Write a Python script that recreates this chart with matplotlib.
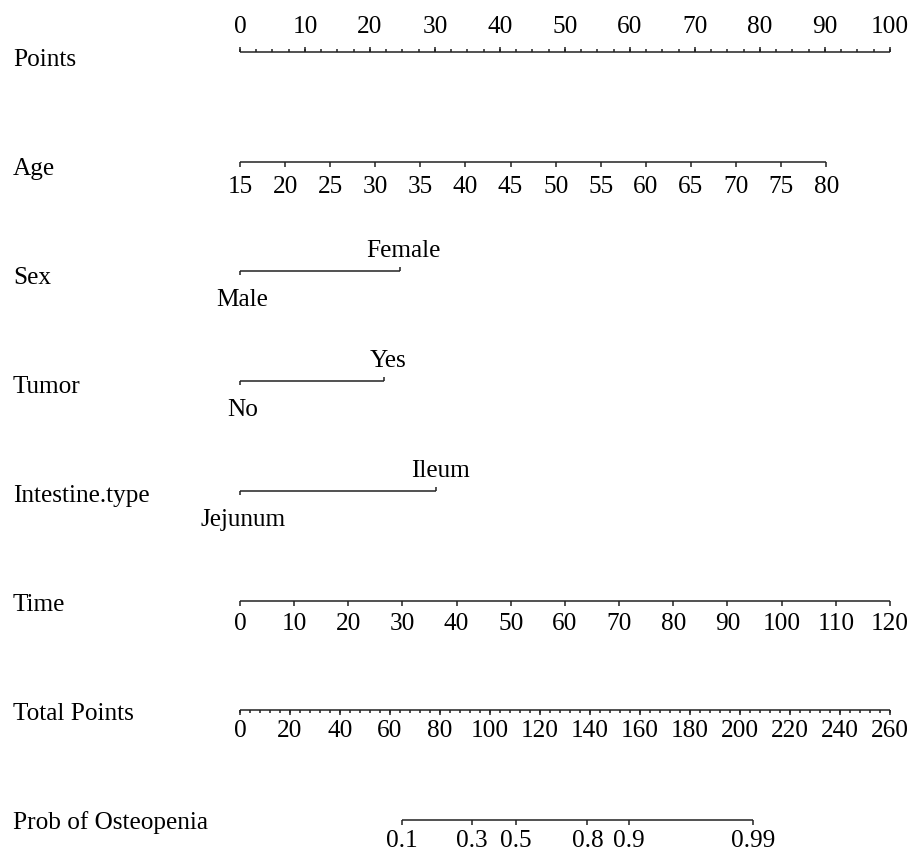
import numpy as np
import matplotlib.pyplot as plt

plt.rcParams['font.family'] = ['Liberation Serif', 'DejaVu Serif']

# scale values
points_ticks = np.arange(0, 101, 10)
points_minor = np.arange(0, 100.1, 2.5)

age_ticks = np.arange(15, 81, 5)
age_range = [15, 80]
age_points = [0, 90.2]

sex_levels = ['Male', 'Female']
sex_points = [0, 24.6]

tumor_levels = ['No', 'Yes']
tumor_points = [0, 22.2]

intestine_levels = ['Jejunum', 'Ileum']
intestine_points = [0, 30.2]

time_ticks = np.arange(0, 121, 10)
time_range = [0, 120]
time_points = [0, 100]

total_ticks = np.arange(0, 261, 20)
total_minor = np.arange(0, 261, 4)
total_max = 260

prob_ticks = ['0.1', '0.3', '0.5', '0.8', '0.9', '0.99']
prob_total = [64.8, 92.7, 110.2, 139.0, 155.6, 205.2]

row_labels = ['Points', 'Age', 'Sex', 'Tumor', 'Intestine.type', 'Time',
              'Total Points', 'Prob of Osteopenia']

# layout (pixels)
W, H = 917, 852
x0, px = 240, 6.5
row_y = [52 + 109.7 * i for i in range(8)]
lbl_y = [66 + 109.0 * i for i in range(8)]
fs = 18.2
lc = '#222222'
lw = 1.1

fig = plt.figure(figsize=(W / 100, H / 100), dpi=100)
ax = fig.add_axes([0, 0, 1, 1])
ax.set_xlim(-x0 / px, (W - x0) / px)
ax.set_ylim(H, 0)
ax.axis('off')

for name, yb in zip(row_labels, lbl_y):
    ax.text(-x0 / px + 13 / px, yb, name, fontsize=fs, ha='left', va='baseline')


def scale(y, pos, labels, minor=None, up=False, lab_above=False, off=30):
    pos = np.asarray(pos, dtype=float)
    ax.hlines(y, pos.min(), pos.max(), color=lc, lw=lw)
    d = -1 if up else 1
    if minor is not None:
        ax.vlines(minor, y, y + d * 3, color=lc, lw=lw)
    ax.vlines(pos, y, y + d * 5, color=lc, lw=lw)
    ty = y - 19 if lab_above else y + off
    for p, t in zip(pos, labels):
        ax.text(p, ty, t, fontsize=fs, ha='center', va='baseline')


def cat_scale(y, pos, levels):
    ax.hlines(y, pos[0], pos[1], color=lc, lw=lw)
    ax.vlines(pos[0], y, y + 4, color=lc, lw=lw)
    ax.vlines(pos[1], y, y - 4, color=lc, lw=lw)
    ax.text(pos[0] + 0.4, y + 35, levels[0], fontsize=fs, ha='center', va='baseline')
    ax.text(pos[1] + 0.6, y - 14, levels[1], fontsize=fs, ha='center', va='baseline')


# Points
scale(row_y[0], points_ticks, [str(v) for v in points_ticks],
      minor=points_minor, up=True, lab_above=True)
# Age
age_pos = np.interp(age_ticks, age_range, age_points)
scale(row_y[1], age_pos, [str(v) for v in age_ticks], off=31)
# categorical rows
cat_scale(row_y[2], sex_points, sex_levels)
cat_scale(row_y[3], tumor_points, tumor_levels)
cat_scale(row_y[4], intestine_points, intestine_levels)
# Time
time_pos = np.interp(time_ticks, time_range, time_points)
scale(row_y[5], time_pos, [str(v) for v in time_ticks])
# Total points
tot_pos = total_ticks * 100 / total_max
scale(row_y[6], tot_pos, [str(v) for v in total_ticks],
      minor=total_minor * 100 / total_max, off=27)
# Probability
prob_pos = np.array(prob_total) * 100 / total_max
scale(row_y[7], prob_pos, prob_ticks, off=27)

fig.savefig('out.png', dpi=100)
